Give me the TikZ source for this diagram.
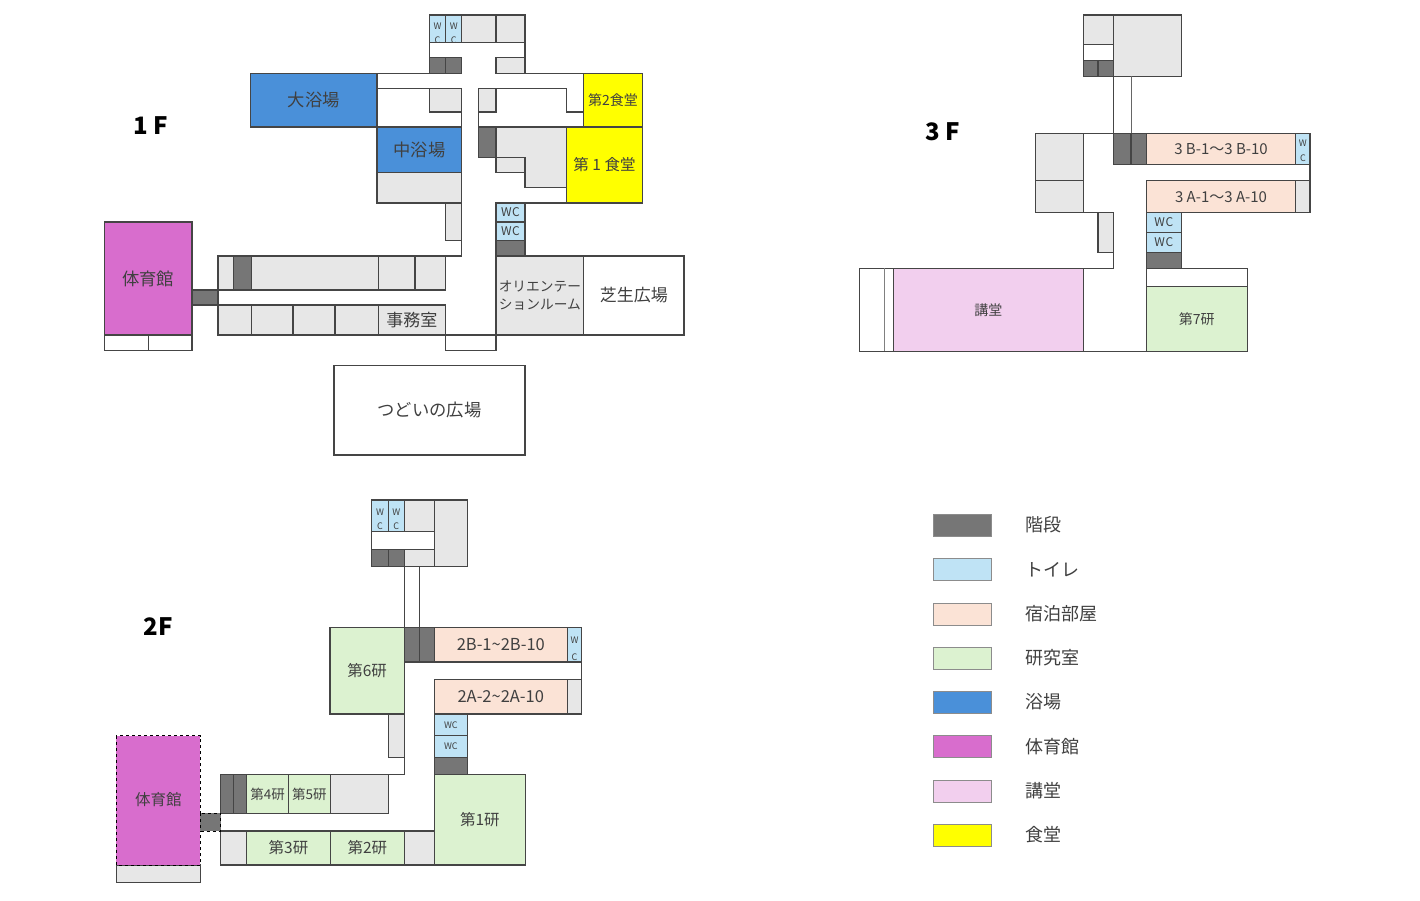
\documentclass[tikz,border=0pt]{standalone}
\usepackage{fontspec}
\setmainfont{Noto Sans CJK JP}
\definecolor{ink}{HTML}{404040}
\definecolor{wallc}{HTML}{454545}
\definecolor{stair}{HTML}{767676}
\definecolor{toilet}{HTML}{BFE3F5}
\definecolor{guest}{HTML}{FBE3D6}
\definecolor{study}{HTML}{DCF2D0}
\definecolor{bath}{HTML}{4A90D9}
\definecolor{gym}{HTML}{D86DCD}
\definecolor{hall}{HTML}{F2CFEE}
\definecolor{dining}{HTML}{FFFF00}
\definecolor{other}{HTML}{E7E7E7}
\tikzset{
  wall/.style={draw=wallc,line width=1.1pt},
  roomtext/.style={text=ink,inner sep=0pt,align=center,font=\fontsize{#1}{18}\selectfont},
  floortext/.style={text=black,inner sep=0pt,font=\fontsize{24}{24}\selectfont\bfseries}
}
\begin{document}
\begin{tikzpicture}[x=1pt,y=-1pt]
  \useasboundingbox (0,0) rectangle (1420,900);
  % open rooms and stairs without text: x0 / y0 / x1 / y1 / colour
  \foreach \xa/\ya/\xb/\yb/\c in {
     % 1F
     461.7/15/496/42.7/other, 496/15/525/42.7/other,
     429.5/57.7/445.7/73.3/stair, 445.7/57.7/461.7/73.3/stair, 496/57.7/525/73.3/other,
     429.5/88.3/461.7/112/other, 478.7/88.3/496/112/other,
     377/172.3/461.7/203/other, 445.3/203/461.7/240.7/other,
     478.7/127/496/157.3/stair, 496/157.3/525/172.3/other,
     496/240.7/525/256/stair, 192/290/218/305/stair,
     218/256/233.5/290/other, 233.5/256/251.5/290/stair, 251.5/256/378.5/290/other,
     378.5/256/415/290/other, 415/256/445.3/290/other,
     218/305/251.5/335/other, 251.5/305/293/335/other, 293/305/335/335/other, 335/305/378.5/335/other,
     445.3/335/496/350.7/white, 104.2/335/148.8/350.7/white, 148.8/335/192/350.7/white,
     % 3F
     1083.3/15/1113.3/44.3/other, 1083.3/44.3/1113.3/60.7/white,
     1083.3/60.7/1098/76.3/stair, 1098/60.7/1113.3/76.3/stair, 1113.3/15/1181.3/76.3/other,
     1035.7/133.3/1083.3/180.3/other, 1035.7/180.3/1083.3/212.7/other,
     1113.3/133.3/1131/164.7/stair, 1131/133.3/1146.3/164.7/stair,
     1295.7/180.7/1310/212.7/other, 1146.3/252.3/1181.3/268.3/stair,
     1098/212.7/1113.3/252.3/other, 859.7/268.3/893.3/351.3/white, 1146.3/268.3/1247.3/286.3/white,
     % 2F
     404.3/500/434.3/531.3/other, 371.7/531.3/434.3/549.3/white,
     371.7/549.3/388.3/566.3/stair, 388.3/549.3/404.3/566.3/stair, 404.3/549.3/434.3/566.3/other,
     434.3/500/467.3/566.3/other,
     404.3/627.7/419.7/662/stair, 419.7/627.7/434.3/662/stair,
     567.3/679.7/581.7/714/other, 434.3/757.3/467.3/774.7/stair, 388.3/714/404.3/757.3/other,
     220.7/774.7/233.3/813.3/stair, 233.3/774.7/246.7/813.3/stair, 330.3/774.7/388.7/813.3/other,
     220.7/831/246.7/865/other, 404.3/831/434.3/865/other, 116.3/865/200.3/882.7/other}{
       \draw[wall,fill=\c] (\xa,\ya) rectangle (\xb,\yb);
  }
  \draw[wall,fill=other] (496,127) -- (566.7,127) -- (566.7,187.7) -- (525,187.7)
     -- (525,157.3) -- (496,157.3) -- cycle;
  % walls of the corridors
  \draw[wall] (429.5,42.7) -- (429.5,57.7) (525,42.7) -- (525,57.7);
  \draw[wall] (377,73.3) -- (461.7,73.3) (496,73.3) -- (583.7,73.3);
  \draw[wall] (377,88.3) -- (461.7,88.3) -- (461.7,256) -- (445.3,256);
  \draw[wall] (478.7,127) -- (478.7,88.3) -- (566.7,88.3) -- (566.7,112) -- (583.7,112);
  \draw[wall] (478.7,127) -- (583.7,127) (496,203) -- (566.7,203);
  \draw[wall] (1113.3,76.3) -- (1113.3,133.3);
  \draw[line width=0.9pt,draw=black!60] (1131,76.3) -- (1131,133.3);
  \draw[wall] (1083.3,133.3) -- (1113.3,133.3) (1310,164.7) -- (1310,180.7);
  \draw[wall] (1083.3,212.7) -- (1113.3,212.7) -- (1113.3,268.3) -- (1083.3,268.3);
  \draw[wall] (1083.3,351.3) -- (1146.3,351.3);
  \draw[line width=0.9pt,draw=black!50] (884.3,268.3) -- (884.3,351.3);
  \draw[wall] (404.3,566.3) -- (404.3,627.7) (419.7,566.3) -- (419.7,627.7);
  \draw[wall] (581.7,662) -- (581.7,679.7);
  \draw[wall] (404.3,714) -- (404.3,774.7) -- (388.7,774.7);
  % rooms with text: x0 / y0 / x1 / y1 / colour / size / text
  \foreach \xa/\ya/\xb/\yb/\c/\fs/\t [count=\n] in {
     250.7/73.3/377/127/bath/17.3/{大浴場},
     377/127/461.7/172.3/bath/17.3/{中浴場},
     583.7/73.3/642.3/127/dining/14/{第2食堂},
     566.7/127/642.3/203/dining/15.5/{第 1 食堂},
     496/203/525/222/toilet/12/{W\kern0.6pt C},
     496/222/525/240.7/toilet/12/{W\kern0.6pt C},
     104.2/222/192/335/gym/17.3/{体育館},
     378.5/305/445.3/335/other/17/{事務室},
     496/256/583.7/335/other/13.7/{オリエンテー\\ションルーム},
     583.7/256/684/335/white/17/{芝生広場},
     334/365.7/525/455/white/17.3/{つどいの広場},
     1146.3/133.3/1295.7/164.7/guest/15/{3 B-1～3 B-10},
     1146.3/180.7/1295.7/212.7/guest/15/{3 A-1～3 A-10},
     1146.3/212.7/1181.3/232.3/toilet/12/{W\kern0.6pt C},
     1146.3/232.3/1181.3/252.3/toilet/12/{W\kern0.6pt C},
     893.3/268.3/1083.3/351.3/hall/14/{講堂},
     1146.3/286.3/1247.3/351.3/study/14/{第7研},
     330/627.7/404.3/714/study/15.5/{第6研},
     434.3/627.7/567.3/662/guest/16.5/{2B-1\textasciitilde 2B-10},
     434.3/679.7/567.3/714/guest/16.5/{2A-2\textasciitilde 2A-10},
     434.3/714/467.3/735.7/toilet/9/{WC},
     434.3/735.7/467.3/757.3/toilet/9/{WC},
     246.7/774.7/288.3/813.3/study/13.5/{第4研},
     288.3/774.7/330.3/813.3/study/13.5/{第5研},
     246.7/831/330.3/865/study/15.5/{第3研},
     330.3/831/404.3/865/study/15.5/{第2研},
     434.3/774.7/525.3/865/study/15.5/{第1研}}{
       \draw[wall,fill=\c] (\xa,\ya) rectangle (\xb,\yb);
       \node[roomtext=\fs] (room\n) at ({(\xa+\xb)/2},{(\ya+\yb)/2}) {\t};
  }
  % gym of the 2F, dashed
  \draw[draw=black,line width=1pt,dashed,fill=gym] (116.3,735.7) rectangle (200.3,865);
  \draw[draw=black,line width=1pt,dashed,fill=stair] (200.3,813.3) rectangle (220.7,831);
  \node[roomtext=15.5] (gymtwo) at (158.3,800) {体育館};
  % narrow WC rooms, letters stacked
  \foreach \xa/\ya/\xb/\yb/\w/\cc [count=\n] in {
     429.5/15/445.7/42.7/26/40,
     445.7/15/461.7/42.7/26/40,
     371.7/500/388.3/531.3/512/526,
     388.3/500/404.3/531.3/512/526,
     567.3/627.7/581.7/662/640/657,
     1295.7/133.3/1310/164.7/143/158}{
       \draw[wall,fill=toilet] (\xa,\ya) rectangle (\xb,\yb);
       \node[roomtext=9] (w\n) at ({(\xa+\xb)/2},\w) {W};
       \node[roomtext=9] (c\n) at ({(\xa+\xb)/2},\cc) {C};
  }
  % the 1F corridor hides the lower part of the letter
  \fill[white] (430.2,43.4) rectangle (524.3,57);
  \draw[wall] (429.5,42.7) -- (525,42.7);
  % floor names
  \node[floortext] (floorone) at (150.5,126) {1 F};
  \node[floortext] (floortwo) at (158,627) {2F};
  \node[floortext] (floorthree) at (943,132) {3 F};
  % legend: y / colour / text
  \foreach \y/\c/\t [count=\n] in {
     525/stair/{階段},
     569.5/toilet/{トイレ},
     614/guest/{宿泊部屋},
     658/study/{研究室},
     702/bath/{浴場},
     746.5/gym/{体育館},
     791/hall/{講堂},
     835/dining/{食堂}}{
       \draw[draw=black!45,line width=1pt,fill=\c] (933,\y-11) rectangle (991.5,\y+11);
       \node[roomtext=18,anchor=west] (legend\n) at (1025,\y) {\t};
  }
\end{tikzpicture}
\end{document}
